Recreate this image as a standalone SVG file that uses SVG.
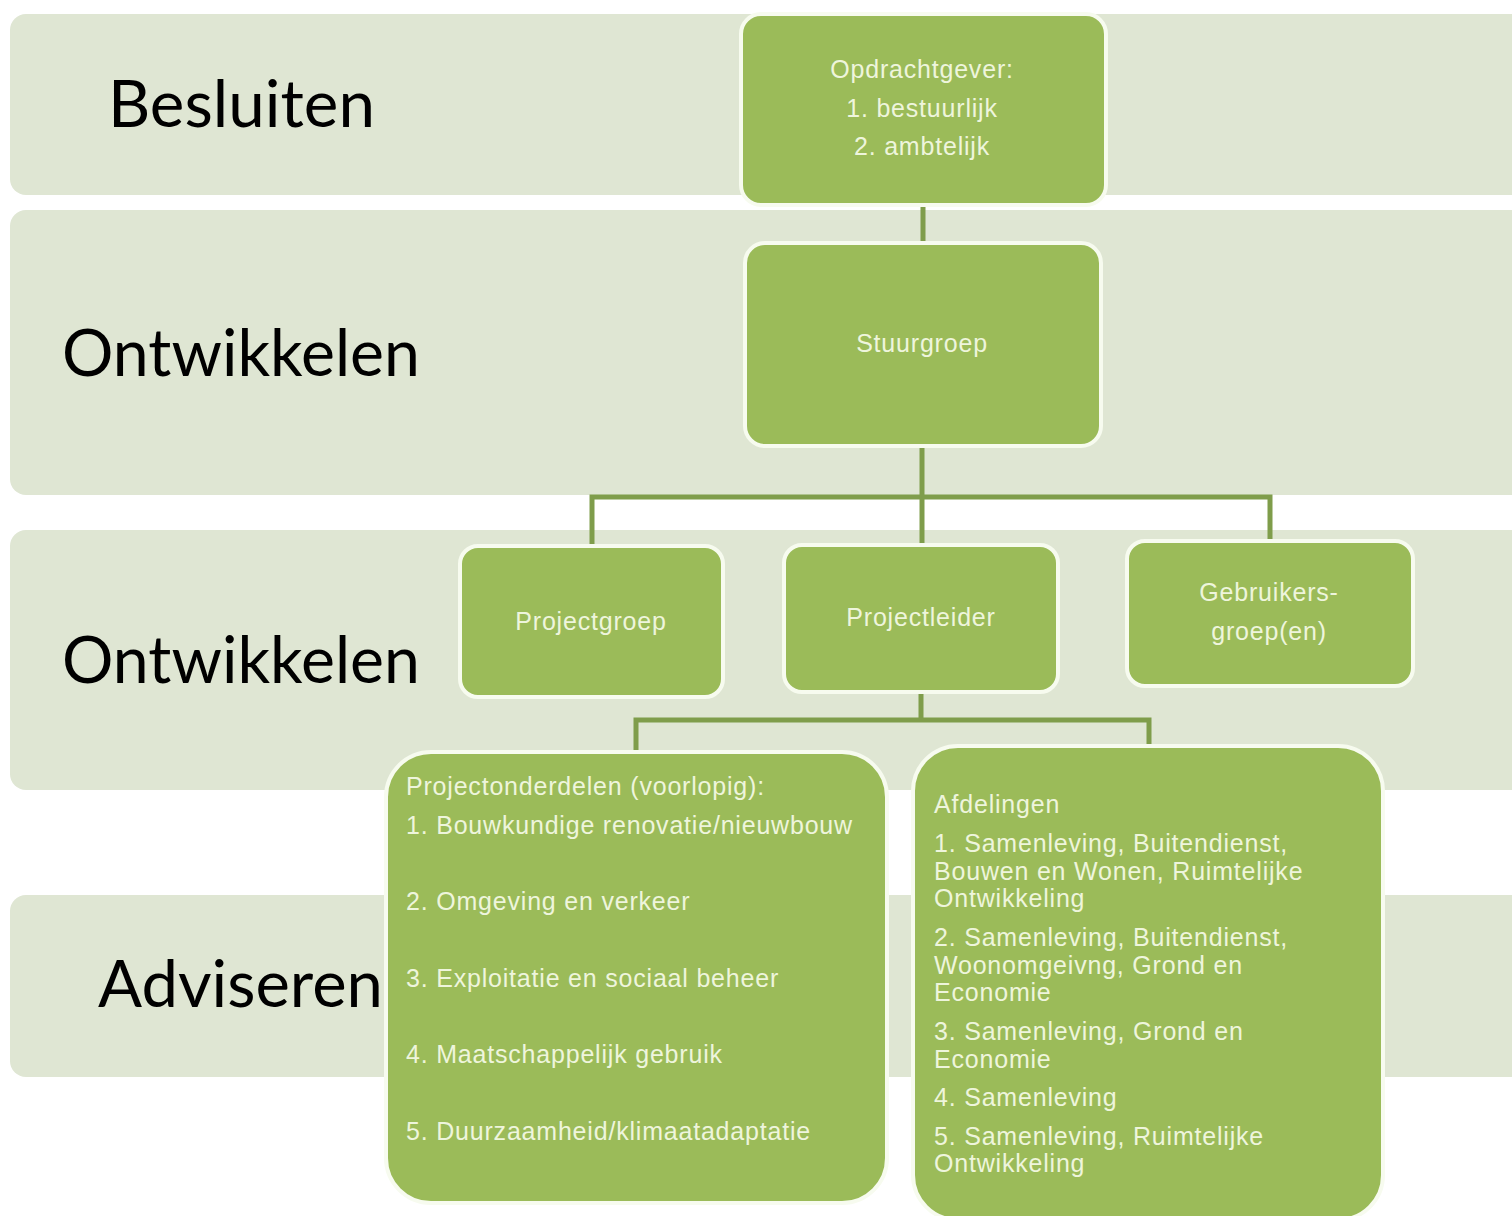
<svg xmlns="http://www.w3.org/2000/svg" width="1512" height="1216" viewBox="0 0 1512 1216">
<style>
.band{fill:#dfe6d3;}
.lbl{font-family:"Lato","Open Sans","Liberation Sans",sans-serif;font-size:66px;fill:#000;}
.node{fill:#9bbb59;stroke:#f7fbef;stroke-width:4;}
.nt{font-family:"Liberation Sans",Arial,sans-serif;font-size:25px;letter-spacing:0.8px;fill:#eef5dc;}
.c{text-anchor:middle;}
.lt{font-family:"Liberation Sans",Arial,sans-serif;font-size:25px;letter-spacing:0.8px;fill:#eef5dc;}
.con{fill:none;stroke:#7f9d4b;stroke-width:5;}
</style>
<rect width="1512" height="1216" fill="#ffffff"/>
<g id="bands">
<rect class="band" x="10" y="14" width="1530" height="181" rx="16"/>
<rect class="band" x="10" y="210" width="1530" height="285" rx="16"/>
<rect class="band" x="10" y="530" width="1530" height="260" rx="16"/>
<rect class="band" x="10" y="895" width="1530" height="182" rx="16"/>
<text class="lbl" x="108" y="127" textLength="267" lengthAdjust="spacingAndGlyphs">Besluiten</text>
<text class="lbl" x="62" y="376" textLength="358" lengthAdjust="spacingAndGlyphs">Ontwikkelen</text>
<text class="lbl" x="62" y="683" textLength="358" lengthAdjust="spacingAndGlyphs">Ontwikkelen</text>
<text class="lbl" x="98" y="1007" textLength="285" lengthAdjust="spacingAndGlyphs">Adviseren</text>
</g>
<g id="connectors">
<path class="con" d="M923 205 V243"/>
<path class="con" d="M922 446 V497 M592 546 V497 H1270 V540 M922 497 V545"/>
<path class="con" d="M921 692 V720 M636 752 V720 H1149 V746"/>
</g>
<g id="opdrachtgever">
<rect class="node" x="741" y="14" width="365" height="191" rx="20"/>
<text class="nt c" x="922" y="78">Opdrachtgever:</text>
<text class="nt c" x="922" y="117">1. bestuurlijk</text>
<text class="nt c" x="922" y="155">2. ambtelijk</text>
</g>
<g id="stuurgroep">
<rect class="node" x="745" y="243" width="356" height="203" rx="20"/>
<text class="nt c" x="922" y="352">Stuurgroep</text>
</g>
<g id="projectgroep">
<rect class="node" x="460" y="546" width="263" height="151" rx="18"/>
<text class="nt c" x="591" y="630">Projectgroep</text>
</g>
<g id="projectleider">
<rect class="node" x="784" y="545" width="274" height="147" rx="18"/>
<text class="nt c" x="921" y="626">Projectleider</text>
</g>
<g id="gebruikersgroep">
<rect class="node" x="1127" y="541" width="286" height="145" rx="18"/>
<text class="nt c" x="1269" y="601">Gebruikers-</text>
<text class="nt c" x="1269" y="640">groep(en)</text>
</g>
<g id="projectonderdelen">
<rect class="node" x="386" y="752" width="501" height="451" rx="45"/>
<text class="nt" x="406" y="795">Projectonderdelen (voorlopig):</text>
<text class="nt" x="406" y="834">1. Bouwkundige  renovatie/nieuwbouw</text>
<text class="nt" x="406" y="910">2. Omgeving  en verkeer</text>
<text class="nt" x="406" y="987">3. Exploitatie en sociaal beheer</text>
<text class="nt" x="406" y="1063">4. Maatschappelijk gebruik</text>
<text class="nt" x="406" y="1140">5. Duurzaamheid/klimaatadaptatie</text>
</g>
<g id="afdelingen">
<rect class="node" x="913" y="746" width="470" height="474" rx="45"/>
<text class="lt" x="934" y="813">Afdelingen</text>
<text class="lt" x="934" y="852">1. Samenleving, Buitendienst,</text>
<text class="lt" x="934" y="880">Bouwen en Wonen, Ruimtelijke</text>
<text class="lt" x="934" y="907">Ontwikkeling</text>
<text class="lt" x="934" y="946">2. Samenleving, Buitendienst,</text>
<text class="lt" x="934" y="974">Woonomgeivng, Grond en</text>
<text class="lt" x="934" y="1001">Economie</text>
<text class="lt" x="934" y="1040">3. Samenleving, Grond en</text>
<text class="lt" x="934" y="1068">Economie</text>
<text class="lt" x="934" y="1106">4. Samenleving</text>
<text class="lt" x="934" y="1145">5. Samenleving, Ruimtelijke</text>
<text class="lt" x="934" y="1172">Ontwikkeling</text>
</g>
</svg>
